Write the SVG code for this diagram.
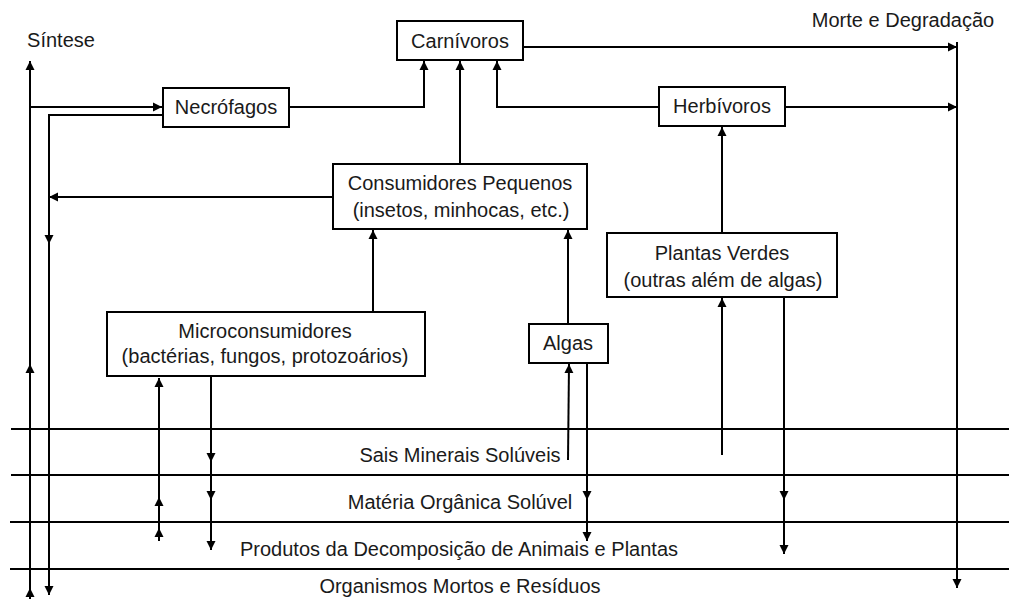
<svg xmlns="http://www.w3.org/2000/svg" width="1009" height="610" viewBox="0 0 1009 610">
<style>
.box{fill:#fff;stroke:#000;stroke-width:2}
.t{font-family:"Liberation Sans",Arial,sans-serif;font-size:20px;fill:#1a1a1a;text-anchor:middle}
.c{fill:none;stroke:#000;stroke-width:2}
.a{marker-end:url(#ah)}
</style>
<defs>
<marker id="ah" markerUnits="userSpaceOnUse" markerWidth="10" markerHeight="10" refX="9" refY="5" orient="auto"><path d="M0,0.5 L9,5 L0,9.5 z" fill="#000"/></marker>
</defs>
<rect width="1009" height="610" fill="#fff"/>
<g id="layers">
<line class="c" x1="11" y1="429" x2="1009" y2="429"/>
<line class="c" x1="11" y1="475" x2="1009" y2="475"/>
<line class="c" x1="10" y1="522" x2="1009" y2="522"/>
<line class="c" x1="10" y1="569" x2="1009" y2="569"/>
<text class="t" x="460" y="462">Sais Minerais Solúveis</text>
<text class="t" x="460" y="509">Matéria Orgânica Solúvel</text>
<text class="t" x="459" y="556">Produtos da Decomposição de Animais e Plantas</text>
<text class="t" x="460" y="593">Organismos Mortos e Resíduos</text>
<text class="t" x="61" y="47">Síntese</text>
<text class="t" x="903" y="27">Morte e Degradação</text>
</g>
<g id="connectors">
<path class="c a" d="M30,599 L30,588"/>
<path class="c a" d="M30,588 L30,364"/>
<path class="c a" d="M30,364 L30,61"/>
<path class="c a" d="M30,107 L162,107"/>
<path class="c a" d="M163,115 L49,115 L49,244"/>
<path class="c a" d="M49,244 L49,595"/>
<path class="c a" d="M333,197 L49,197"/>
<path class="c a" d="M289,107 L424,107 L424,61"/>
<path class="c a" d="M659,107 L497,107 L497,61"/>
<path class="c a" d="M460,164 L460,61"/>
<path class="c a" d="M523,47 L957,47"/>
<path class="c" d="M957,42 L957,560"/>
<path class="c a" d="M957,560 L957,588"/>
<path class="c a" d="M785,107 L957,107"/>
<path class="c a" d="M722,233 L722,127"/>
<path class="c a" d="M722,455 L722,298"/>
<path class="c a" d="M784,297 L784,500"/>
<path class="c a" d="M784,500 L784,554"/>
<path class="c a" d="M568,324 L568,230"/>
<path class="c a" d="M373,312 L373,230"/>
<path class="c a" d="M568,460 L569,364"/>
<path class="c a" d="M587,363 L587,500"/>
<path class="c a" d="M587,500 L587,541"/>
<path class="c a" d="M211,376 L211,462"/>
<path class="c a" d="M211,462 L211,500"/>
<path class="c a" d="M211,500 L211,550"/>
<path class="c a" d="M159,541 L159,528"/>
<path class="c a" d="M159,528 L159,497"/>
<path class="c a" d="M159,497 L159,378"/>
</g>
<g id="carnivoros"><rect class="box" x="397" y="21" width="126" height="39"/><text class="t" x="460" y="48">Carnívoros</text></g>
<g id="necrofagos"><rect class="box" x="163" y="88" width="126" height="39"/><text class="t" x="226" y="114">Necrófagos</text></g>
<g id="herbivoros"><rect class="box" x="659" y="87" width="126" height="39"/><text class="t" x="722" y="113">Herbívoros</text></g>
<g id="consumidores"><rect class="box" x="333" y="164" width="254" height="65"/><text class="t" x="460" y="190">Consumidores Pequenos</text><text class="t" x="461" y="217">(insetos, minhocas, etc.)</text></g>
<g id="plantas"><rect class="box" x="607" y="233" width="230" height="64"/><text class="t" x="722" y="260">Plantas Verdes</text><text class="t" x="723" y="287">(outras além de algas)</text></g>
<g id="micro"><rect class="box" x="107" y="312" width="318" height="64"/><text class="t" x="265" y="338">Microconsumidores</text><text class="t" x="265" y="363">(bactérias, fungos, protozoários)</text></g>
<g id="algas"><rect class="box" x="529" y="324" width="79" height="39"/><text class="t" x="568" y="350">Algas</text></g>
</svg>
